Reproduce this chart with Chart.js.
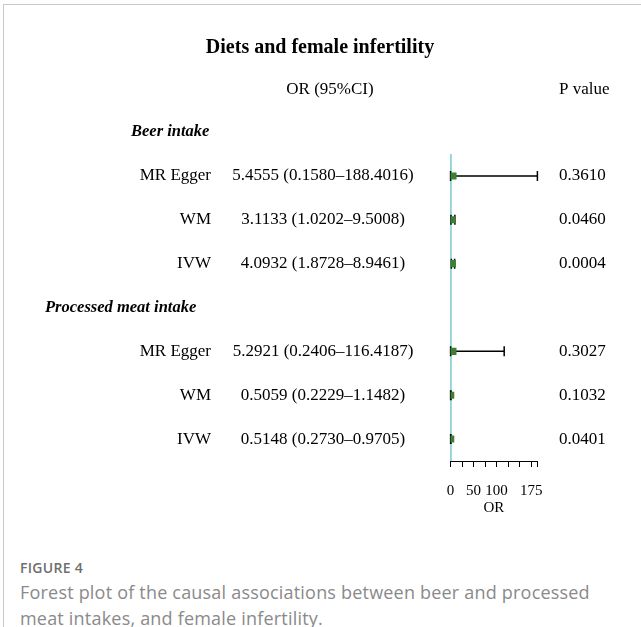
<!DOCTYPE html>
<html>
<head>
<meta charset="utf-8">
<script src="https://cdn.jsdelivr.net/npm/chart.js@4"></script>
<style>
  html, body { margin: 0; padding: 0; background: #fff; }
  body { width: 641px; height: 627px; position: relative; overflow: hidden; }
  .frame { position: absolute; left: 3px; top: 4px; right: 0; bottom: 0; border-left: 1px solid #c8c8c8; border-top: 1px solid #c8c8c8; }
  #plot { position: absolute; left: 0; top: 0; }
  .caption { position: absolute; left: 20px; top: 557px; width: 615px; font-family: 'Open Sans', sans-serif; color: #8a8a8a; }
  .caption .fig { font-size: 14px; font-weight: 600; letter-spacing: 0.3px; color: #6e6e6e; line-height: 22px; }
  .caption .txt { font-size: 18px; letter-spacing: 0.2px; line-height: 26px; }
</style>
</head>
<body>
<div class="frame"></div>
<canvas id="plot" width="641" height="530"></canvas>
<div class="caption">
  <div class="fig">FIGURE 4</div>
  <div class="txt">Forest plot of the causal associations between beer and processed meat intakes, and female infertility.</div>
</div>
<script>
const groups = ['Beer intake', 'Processed meat intake'];
const methods = ['MR Egger', 'WM', 'IVW', 'MR Egger', 'WM', 'IVW'];
const oddsRatio = [5.4555, 3.1133, 4.0932, 5.2921, 0.5059, 0.5148];
const lowerCI = [0.1580, 1.0202, 1.8728, 0.2406, 0.2229, 0.2730];
const upperCI = [188.4016, 9.5008, 8.9461, 116.4187, 1.1482, 0.9705];
const pValues = ['0.3610', '0.0460', '0.0004', '0.3027', '0.1032', '0.0401'];
const tickValues = [0, 25, 50, 75, 100, 125, 150, 175, 188.4016];
const tickLabels = ['0', '50', '100', '175'];

// row 0 and 4 are group headers, methods sit on the rows between
const rowOf = [1, 2, 3, 5, 6, 7];
const groupRow = [0, 4];

const serif = "'Liberation Serif', 'Times New Roman', serif";

const forestText = {
  id: 'forestText',
  beforeDatasetsDraw(chart) {
    const { ctx, chartArea, scales: { x, y } } = chart;
    ctx.save();
    // null line at OR = 1
    const x1 = x.getPixelForValue(1);
    ctx.strokeStyle = '#56bcc6';
    ctx.lineWidth = 1.2;
    ctx.beginPath();
    ctx.moveTo(x1, chartArea.top);
    ctx.lineTo(x1, chartArea.bottom);
    ctx.stroke();

    // confidence intervals
    ctx.strokeStyle = '#000';
    ctx.lineWidth = 1.5;
    oddsRatio.forEach((_, i) => {
      const py = y.getPixelForValue(rowOf[i]);
      const a = x.getPixelForValue(lowerCI[i]);
      const b = x.getPixelForValue(upperCI[i]);
      ctx.beginPath();
      ctx.moveTo(a, py);
      ctx.lineTo(b, py);
      ctx.moveTo(a, py - 5);
      ctx.lineTo(a, py + 5);
      ctx.moveTo(b, py - 5);
      ctx.lineTo(b, py + 5);
      ctx.stroke();
    });
    ctx.restore();
  },
  afterDraw(chart) {
    const { ctx, scales: { y } } = chart;
    ctx.save();
    ctx.fillStyle = '#000';
    ctx.textBaseline = 'middle';

    ctx.font = `bold 20px ${serif}`;
    ctx.textAlign = 'center';
    ctx.fillText('Diets and female infertility', 320, 48);

    ctx.font = `17px ${serif}`;
    ctx.fillText('OR (95%CI)', 330, 90);
    ctx.textAlign = 'left';
    ctx.fillText('P value', 559, 90);

    ctx.font = `italic bold 16.5px ${serif}`;
    ctx.fillText(groups[0], 131, y.getPixelForValue(groupRow[0]));
    ctx.fillText(groups[1], 45, y.getPixelForValue(groupRow[1]));

    ctx.font = `17px ${serif}`;
    methods.forEach((m, i) => {
      const py = y.getPixelForValue(rowOf[i]);
      ctx.textAlign = 'right';
      ctx.fillText(m, 211, py);
      ctx.textAlign = 'center';
      ctx.fillText(`${oddsRatio[i].toFixed(4)} (${lowerCI[i].toFixed(4)}\u2013${upperCI[i].toFixed(4)})`, 323, py);
      ctx.textAlign = 'left';
      ctx.fillText(pValues[i], 559, py);
    });
    ctx.restore();
  }
};

new Chart(document.getElementById('plot'), {
  type: 'scatter',
  data: {
    datasets: [{
      data: oddsRatio.map((v, i) => ({ x: v, y: rowOf[i] })),
      pointStyle: 'rect',
      pointRadius: 5,
      pointHoverRadius: 5,
      backgroundColor: '#3e7d34',
      borderColor: '#3e7d34',
      borderWidth: 0
    }]
  },
  options: {
    responsive: false,
    animation: false,
    layout: { padding: { left: 450.5, right: 103.6, top: 154, bottom: 13 } },
    plugins: { legend: { display: false }, tooltip: { enabled: false } },
    scales: {
      x: {
        type: 'linear',
        min: 0,
        max: Math.max(...upperCI),
        afterBuildTicks: (axis) => { axis.ticks = tickValues.map((v) => ({ value: v })); },
        grid: { drawOnChartArea: false, drawTicks: true, tickLength: 6, color: '#000', lineWidth: 1 },
        border: { display: true, color: '#000', width: 1 },
        ticks: {
          autoSkip: false,
          maxRotation: 0,
          padding: 15,
          color: '#000',
          font: { family: serif, size: 15 },
          callback: (v) => (tickLabels.includes(String(v)) ? String(v) : '')
        },
        title: { display: true, text: 'OR', color: '#000', font: { family: serif, size: 15 }, padding: { top: -16, bottom: 0 } }
      },
      y: { type: 'linear', min: 0.5, max: 7.5, reverse: true, display: false }
    }
  },
  plugins: [forestText]
});
</script>
</body>
</html>
